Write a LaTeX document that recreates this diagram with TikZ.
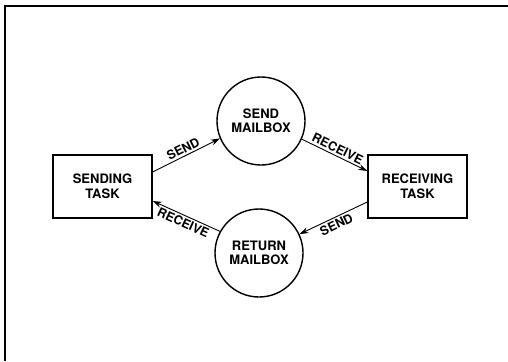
\documentclass[tikz,border=0pt]{standalone}
\usepackage{fontspec}
\setmainfont{TeX Gyre Heros}
\usetikzlibrary{arrows.meta}
\begin{document}
\begin{tikzpicture}[x=1pt,y=-1pt,
  task/.style={draw,line width=1.4pt,minimum width=99pt,minimum height=63pt,inner sep=0pt,align=center,font=\fontsize{13}{14.5}\selectfont\bfseries},
  mbox/.style={draw,circle,line width=1.4pt,minimum size=88pt,inner sep=0pt,align=center,font=\fontsize{13}{14.5}\selectfont\bfseries},
  flow/.style={line width=0.9pt,-{Stealth[length=9pt,width=6pt]}},
  lbl/.style={font=\fontsize{12.5}{14}\selectfont\bfseries,inner sep=2pt}]
\useasboundingbox (0,0) rectangle (508,361);
\draw[line width=1.8pt] (5,361) -- (5,6) -- (508,6);
\node[task] (st) at (102.5,186.5) {SENDING\\TASK};
\node[task] (rt) at (417.5,186.5) {RECEIVING\\TASK};
\node[mbox] (smb) at (261,121) {SEND\\MAILBOX};
\node[mbox] (rmb) at (259,253) {RETURN\\MAILBOX};
\draw[flow] ([yshift=14.5pt]st.east) -- (smb.203) node[lbl,midway,above,sloped] {SEND};
\draw[flow] (smb.336) -- ([yshift=15.5pt]rt.west) node[lbl,midway,above,sloped] {RECEIVE};
\draw[flow] ([yshift=-15.5pt]rt.west) -- (rmb.25) node[lbl,midway,below,sloped] {SEND};
\draw[flow] (rmb.151) -- ([yshift=-14.5pt]st.east) node[lbl,midway,below,sloped] {RECEIVE};
\end{tikzpicture}
\end{document}
